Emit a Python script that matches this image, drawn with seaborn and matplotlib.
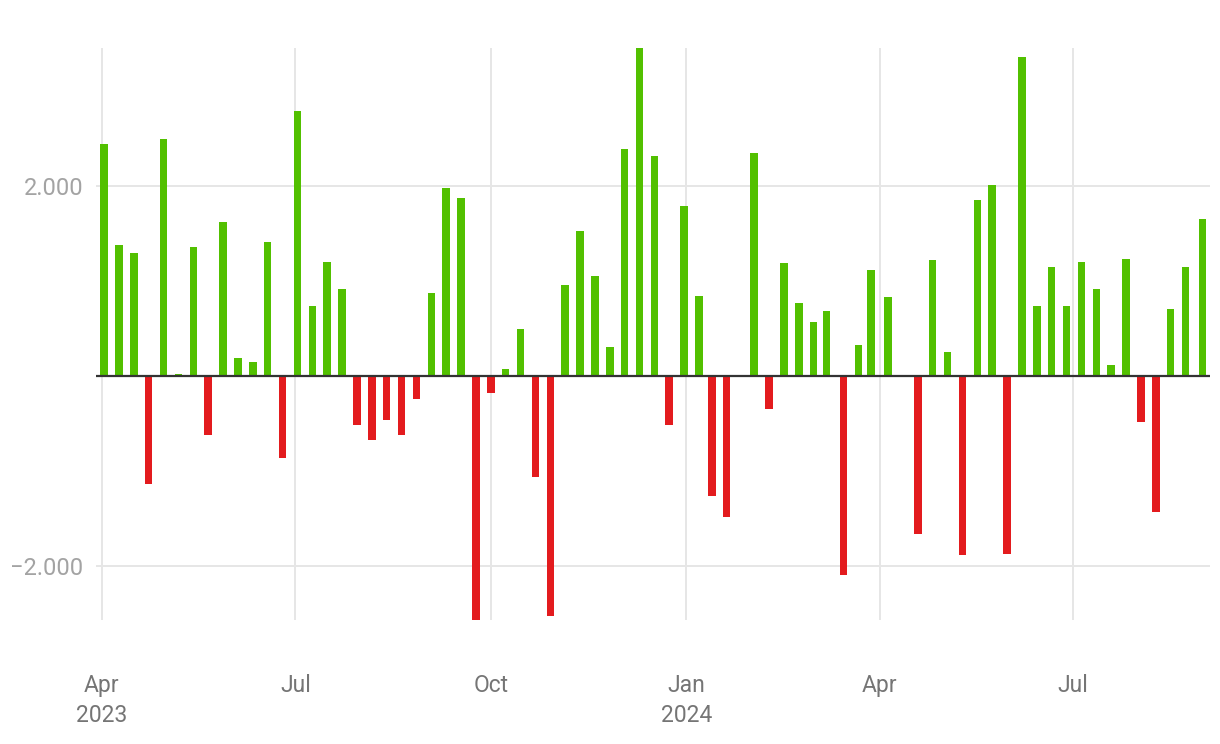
import matplotlib
matplotlib.use("Agg")
import matplotlib.pyplot as plt
import matplotlib.dates as mdates
import numpy as np
import pandas as pd
import seaborn as sns

# ---- data ----
dates = [
    "2023-04-02", "2023-04-09", "2023-04-16", "2023-04-23", "2023-04-30",
    "2023-05-07", "2023-05-14", "2023-05-21", "2023-05-28",
    "2023-06-04", "2023-06-11", "2023-06-18", "2023-06-25",
    "2023-07-02", "2023-07-09", "2023-07-16", "2023-07-23", "2023-07-30",
    "2023-08-06", "2023-08-13", "2023-08-20", "2023-08-27",
    "2023-09-03", "2023-09-10", "2023-09-17", "2023-09-24",
    "2023-10-01", "2023-10-08", "2023-10-15", "2023-10-22", "2023-10-29",
    "2023-11-05", "2023-11-12", "2023-11-19", "2023-11-26",
    "2023-12-03", "2023-12-10", "2023-12-17", "2023-12-24", "2023-12-31",
    "2024-01-07", "2024-01-13", "2024-01-20", "2024-02-02", "2024-02-09",
    "2024-02-16", "2024-02-23", "2024-03-01", "2024-03-07", "2024-03-15",
    "2024-03-22", "2024-03-28", "2024-04-05", "2024-04-19", "2024-04-26",
    "2024-05-03", "2024-05-10", "2024-05-17", "2024-05-24", "2024-05-31",
    "2024-06-07", "2024-06-14", "2024-06-21", "2024-06-28", "2024-07-05",
    "2024-07-12", "2024-07-19", "2024-07-26", "2024-08-02", "2024-08-09",
    "2024-08-16", "2024-08-23", "2024-08-31",
]
values = [
    2439, 1375, 1290, -1141, 2492,
    26, 1355, -617, 1617,
    185, 153, 1407, -859,
    2786, 734, 1197, 911, -512,
    -669, -460, -617, -238,
    871, 1976, 1871, -2568,
    -181, 69, 492, -1064, -2528,
    956, 1524, 1048, 310,
    2387, 3453, 2314, -512, 1786,
    839, -1258, -1480, 2347, -343,
    1185, 774, 564, 681, -2093,
    323, 1113, 827, -1661, 1218,
    250, -1879, 1851, 2008, -1871,
    3355, 742, 1145, 734, 1197,
    911, 113, 1230, -480, -1427,
    702, 1145, 1649,
]
tick_dates = ["2023-04-01", "2023-07-01", "2023-10-01", "2024-01-01", "2024-04-01", "2024-07-01"]
tick_labels = ["Apr\n2023", "Jul", "Oct", "Jan\n2024", "Apr", "Jul"]
y_ticks = [-2000, 2000]
y_tick_labels = ["\u22122.000", "2.000"]

GREEN = "#52c000"
RED = "#e31b1e"

df = pd.DataFrame({"date": pd.to_datetime(dates), "value": values})
df["x"] = mdates.date2num(df["date"])
df["sign"] = np.where(df["value"] >= 0, "up", "down")

sns.set_style("white")
plt.rcParams["font.family"] = ["Roboto", "DejaVu Sans"]

fig = plt.figure(figsize=(12.2, 7.44), dpi=100)
ax = fig.add_axes([96 / 1220, 1 - 620 / 744, (1210 - 96) / 1220, (620 - 48) / 744])

sns.barplot(data=df, x="x", y="value", hue="sign", native_scale=True,
            palette={"up": GREEN, "down": RED}, saturation=1, dodge=False,
            errorbar=None, width=0.59, linewidth=0, legend=False, ax=ax, zorder=2)

x0 = mdates.date2num(pd.Timestamp("2023-04-01"))
ax.set_xlim(x0 - 2.8, x0 + 521.5)
ax.set_ylim(min(values), max(values))

ax.set_xticks(mdates.date2num(pd.to_datetime(tick_dates)))
ax.set_xticklabels(tick_labels)
ax.set_yticks(y_ticks)
ax.set_yticklabels(y_tick_labels)
for lbl in ax.get_xticklabels():
    lbl.set_linespacing(1.38)

ax.grid(True, color="#e6e6e6", linewidth=1.4, zorder=0)
ax.set_axisbelow(True)
ax.axhline(0, color="#333333", linewidth=1.6, zorder=5)

for s in ax.spines.values():
    s.set_visible(False)

ax.tick_params(axis="x", length=0, pad=39, labelsize=16.5, labelcolor="#757575")
ax.tick_params(axis="y", length=0, pad=9, labelsize=17, labelcolor="#a3a3a3")
ax.set_xlabel("")
ax.set_ylabel("")

fig.savefig("out.png", dpi=100)
